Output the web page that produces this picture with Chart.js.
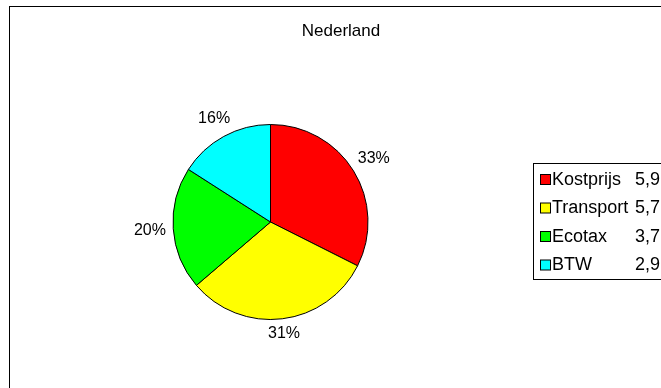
<!DOCTYPE html>
<html>
<head>
<meta charset="utf-8">
<title>Nederland</title>
<script src="https://cdn.jsdelivr.net/npm/chart.js@4.4.1/dist/chart.umd.min.js"></script>
<style>
  html, body { margin: 0; padding: 0; background: #fff; }
  #wrap { width: 661px; height: 388px; }
</style>
</head>
<body>
<div id="wrap"><canvas id="pieChart" width="661" height="388"></canvas></div>
<script>
// chart data
const chartTitle = 'Nederland';
const categories = ['Kostprijs', 'Transport', 'Ecotax', 'BTW'];
const values = [5.9, 5.7, 3.7, 2.9];
const valueLabels = ['5,9', '5,7', '3,7', '2,9'];
const percentLabels = ['33%', '31%', '20%', '16%'];
const colors = ['#ff0000', '#ffff00', '#00ff00', '#00ffff'];

const FONT = '"Liberation Sans", Arial, sans-serif';

// draws frame, title, outside labels and the legend box
const excelLook = {
    id: 'excelLook',
    beforeDraw(chart) {
        const ctx = chart.ctx;
        ctx.save();
        ctx.fillStyle = '#fff';
        ctx.fillRect(0, 0, chart.width, chart.height);
        ctx.strokeStyle = '#000';
        ctx.lineWidth = 1;
        ctx.strokeRect(9.5, 6.5, chart.width + 20, chart.height + 20);
        ctx.restore();
    },
    afterDraw(chart) {
        const ctx = chart.ctx;
        ctx.save();

        // title
        ctx.fillStyle = '#000';
        ctx.font = '17px ' + FONT;
        ctx.textAlign = 'center';
        ctx.textBaseline = 'alphabetic';
        ctx.fillText(chartTitle, 341, 36);

        // percent labels outside each slice
        ctx.font = '16px ' + FONT;
        ctx.textBaseline = 'middle';
        const arcs = chart.getDatasetMeta(0).data;
        arcs.forEach((arc, i) => {
            const p = arc.getProps(['x', 'y', 'startAngle', 'endAngle', 'outerRadius'], true);
            const mid = (p.startAngle + p.endAngle) / 2;
            const dx = Math.cos(mid), dy = Math.sin(mid);
            const w = ctx.measureText(percentLabels[i]).width;
            const h = 12;
            const dist = p.outerRadius + 7 + Math.abs(dx) * w / 2 + Math.abs(dy) * h / 2;
            ctx.fillText(percentLabels[i], p.x + dx * dist, p.y + dy * dist);
        });

        // legend box
        ctx.strokeStyle = '#000';
        ctx.lineWidth = 1;
        ctx.strokeRect(533.5, 163.5, 200, 116);
        ctx.font = '18px ' + FONT;
        categories.forEach((name, i) => {
            const cy = 180 + i * 28.5;
            ctx.fillStyle = colors[i];
            ctx.fillRect(540.5, cy - 5.5, 10, 10);
            ctx.strokeStyle = '#000';
            ctx.strokeRect(540.5, cy - 5.5, 10, 10);
            ctx.fillStyle = '#000';
            ctx.textAlign = 'left';
            ctx.fillText(name, 552, cy);
            ctx.textAlign = 'right';
            ctx.fillText(valueLabels[i], 660, cy);
        });
        ctx.restore();
    }
};

const ctx = document.getElementById('pieChart').getContext('2d');
const pieChart = new Chart(ctx, {
    type: 'pie',
    data: {
        labels: categories,
        datasets: [{
            data: values,
            backgroundColor: colors,
            borderColor: '#000',
            borderWidth: 1
        }]
    },
    options: {
        responsive: false,
        animation: false,
        layout: {
            padding: { left: 172, right: 292, top: 124, bottom: 68 }
        },
        plugins: {
            legend: { display: false },
            title: { display: false },
            tooltip: { enabled: false }
        }
    },
    plugins: [excelLook]
});
</script>
</body>
</html>
